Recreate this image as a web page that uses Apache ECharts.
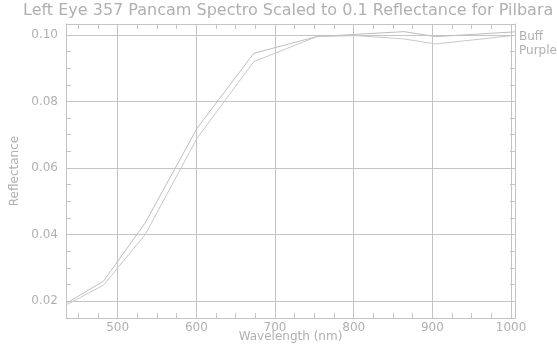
<!DOCTYPE html>
<html><head><meta charset="utf-8">
<script src="https://cdn.jsdelivr.net/npm/echarts@6/dist/echarts.min.js"></script>
<style>html,body{margin:0;padding:0;background:#fff}#c{width:557px;height:347px}</style>
</head><body><div id="c"></div>
<script>
const titleText = 'Left Eye 357 Pancam Spectro Scaled to 0.1 Reflectance for Pilbara';
const wavelengths = [436, 482, 535, 601, 673, 753, 803, 864, 904, 1009];
const buff   = [0.0195, 0.0260, 0.0435, 0.0720, 0.0945, 0.0995, 0.1002, 0.1010, 0.0995, 0.1010];
const purple = [0.0190, 0.0248, 0.0400, 0.0690, 0.0920, 0.0995, 0.0998, 0.0988, 0.0973, 0.1000];
const seriesNames = ['Buff', 'Purple'];
const xLabels = [500, 600, 700, 800, 900, 1000];
const yLabels = [0.02, 0.04, 0.06, 0.08, 0.10];

const X_MIN = 434.3, X_MAX = 1005, Y_MIN = 0.0149, Y_MAX = 0.1033;
const xMinor = []; for (let v = 450; v <= 1000; v += 25) xMinor.push(v);
const yMinor = []; for (let i = 4; i <= 20; i++) yMinor.push(+(i * 0.005).toFixed(3));

const C = '#c4c4c4', T = '#b0b0b0', F = 'DejaVu Sans';
const pair = (ys) => wavelengths.map((w, i) => [w, ys[i]]);

function xAx(pos, opts) {
  return Object.assign({
    type: 'value', position: pos, min: X_MIN, max: X_MAX,
    axisLine: { show: true, lineStyle: { color: C, width: 1 } },
    axisTick: { show: true, inside: true, length: 5, customValues: xMinor, lineStyle: { color: C } },
    axisLabel: { show: false },
    splitLine: { show: false }
  }, opts);
}
function yAx(pos, opts) {
  return Object.assign({
    type: 'value', position: pos, min: Y_MIN, max: Y_MAX,
    axisLine: { show: true, lineStyle: { color: C, width: 1 } },
    axisTick: { show: true, inside: true, length: 5, customValues: yMinor, lineStyle: { color: C } },
    axisLabel: { show: false },
    splitLine: { show: false }
  }, opts);
}

const chart = echarts.init(document.getElementById('c'), null, { renderer: 'canvas' });
chart.setOption({
  backgroundColor: '#fff',
  animation: false,
  title: {
    text: titleText, left: 23, top: 3, padding: 0,
    textStyle: { color: T, fontFamily: F, fontSize: 16, fontWeight: 'normal' }
  },
  legend: {
    data: seriesNames, orient: 'vertical', left: 519, top: 31,
    itemWidth: 0, itemHeight: 0, itemGap: 2, padding: 0,
    textStyle: { color: T, fontFamily: F, fontSize: 12, padding: [0, 0, 0, -6] },
    icon: 'rect'
  },
  grid: { left: 66, right: 42, top: 24, bottom: 29, containLabel: false, outerBoundsMode: 'none' },
  xAxis: [
    xAx('bottom', {
      name: 'Wavelength (nm)', nameLocation: 'middle', nameGap: 13, nameMoveOverlap: false,
      nameTextStyle: { color: T, fontFamily: F, fontSize: 12 },
      axisLabel: { show: true, customValues: xLabels, color: T, fontFamily: F, fontSize: 12, margin: 4,
        formatter: v => String(v) }
    }),
    xAx('top', {}),
    {
      type: 'value', position: 'bottom', min: X_MIN, max: X_MAX,
      axisLine: { show: false }, axisLabel: { show: false },
      axisTick: { show: false, customValues: xLabels },
      splitLine: { show: true, lineStyle: { color: C, width: 1 } }
    }
  ],
  yAxis: [
    yAx('left', {
      name: 'Reflectance', nameLocation: 'middle', nameGap: 45, nameRotate: 90, nameMoveOverlap: false,
      nameTextStyle: { color: T, fontFamily: F, fontSize: 12 },
      axisLabel: { show: true, customValues: yLabels, color: T, fontFamily: F, fontSize: 12, margin: 8,
        formatter: v => v.toFixed(2) }
    }),
    yAx('right', {}),
    {
      type: 'value', position: 'left', min: Y_MIN, max: Y_MAX,
      axisLine: { show: false }, axisLabel: { show: false },
      axisTick: { show: false, customValues: yLabels },
      splitLine: { show: true, lineStyle: { color: C, width: 1 } }
    }
  ],
  series: [
    { name: seriesNames[0], type: 'line', data: pair(buff), xAxisIndex: 0, yAxisIndex: 0,
      showSymbol: false, symbol: 'none', clip: true, lineStyle: { color: '#bdbdbd', width: 1 }, itemStyle: { color: '#bdbdbd' } },
    { name: seriesNames[1], type: 'line', data: pair(purple), xAxisIndex: 0, yAxisIndex: 0,
      showSymbol: false, symbol: 'none', clip: true, lineStyle: { color: '#c8c8c8', width: 1 }, itemStyle: { color: '#c8c8c8' } }
  ]
});
</script></body></html>
